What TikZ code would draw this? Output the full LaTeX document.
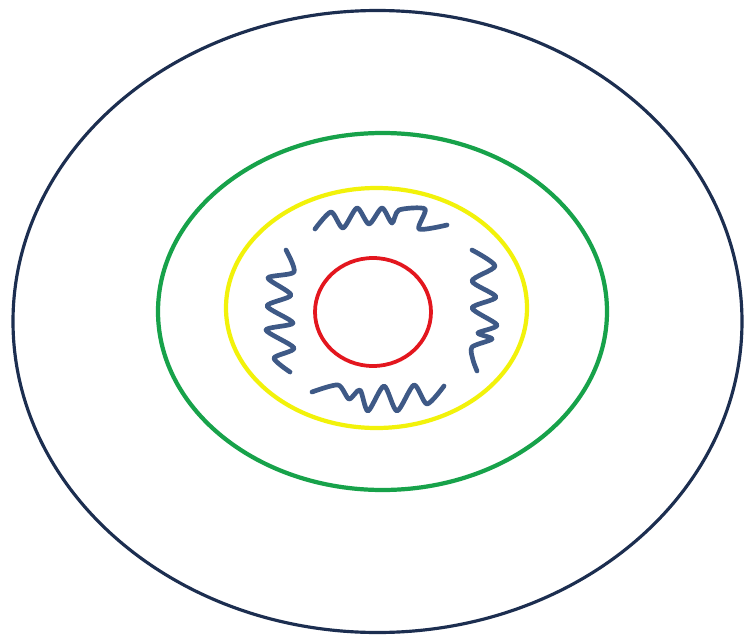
\documentclass[tikz,border=0pt]{standalone}
\definecolor{outerc}{HTML}{1C2E50}
\definecolor{greenc}{HTML}{17A24A}
\definecolor{yellowc}{HTML}{F2F20A}
\definecolor{redc}{HTML}{E3161E}
\definecolor{wavec}{HTML}{3E5986}
\tikzset{
  ring/.style={line width=#1},
  wave/.style={draw=wavec, line width=4pt, line cap=round, line join=round, smooth, tension=0.45}
}
\begin{document}
\begin{tikzpicture}[x=0.03cm, y=-0.03cm]
\useasboundingbox (0,0) rectangle (744,639);
\fill[white] (0,0) rectangle (744,639);
% rings
\draw[outerc, ring=2.7pt] (377.5,321.5) ellipse [x radius=364.5, y radius=311];
\draw[greenc, ring=3.6pt] (382.5,311.5) ellipse [x radius=224.5, y radius=178.5];
\draw[yellowc, ring=3.6pt] (376.5,308) ellipse [x radius=150.5, y radius=120];
\draw[redc, ring=3.2pt] (373,312) ellipse [x radius=58, y radius=54];
% top wave
\draw[wave] plot coordinates {(315,229) (331,212) (343,228) (357,208) (369,224) (382,208) (392,223) (399,210) (425,209) (419,229) (447,225)};
% bottom wave
\draw[wave] plot coordinates {(312,392) (338,385) (349,399) (360,390) (368,411) (384,386) (397,411) (414,385) (427,404) (444,386)};
% left wave
\draw[wave] plot coordinates {(286,250) (294,272) (268,278) (291,295) (267,306) (293,323) (266,330) (294,348) (274,358) (290,372)};
% right wave
\draw[wave] plot coordinates {(472,250) (495,266) (472,281) (496,297) (472,308) (497,325) (478,333) (492,339) (472,347) (473,360) (477,371)};
\end{tikzpicture}
\end{document}
